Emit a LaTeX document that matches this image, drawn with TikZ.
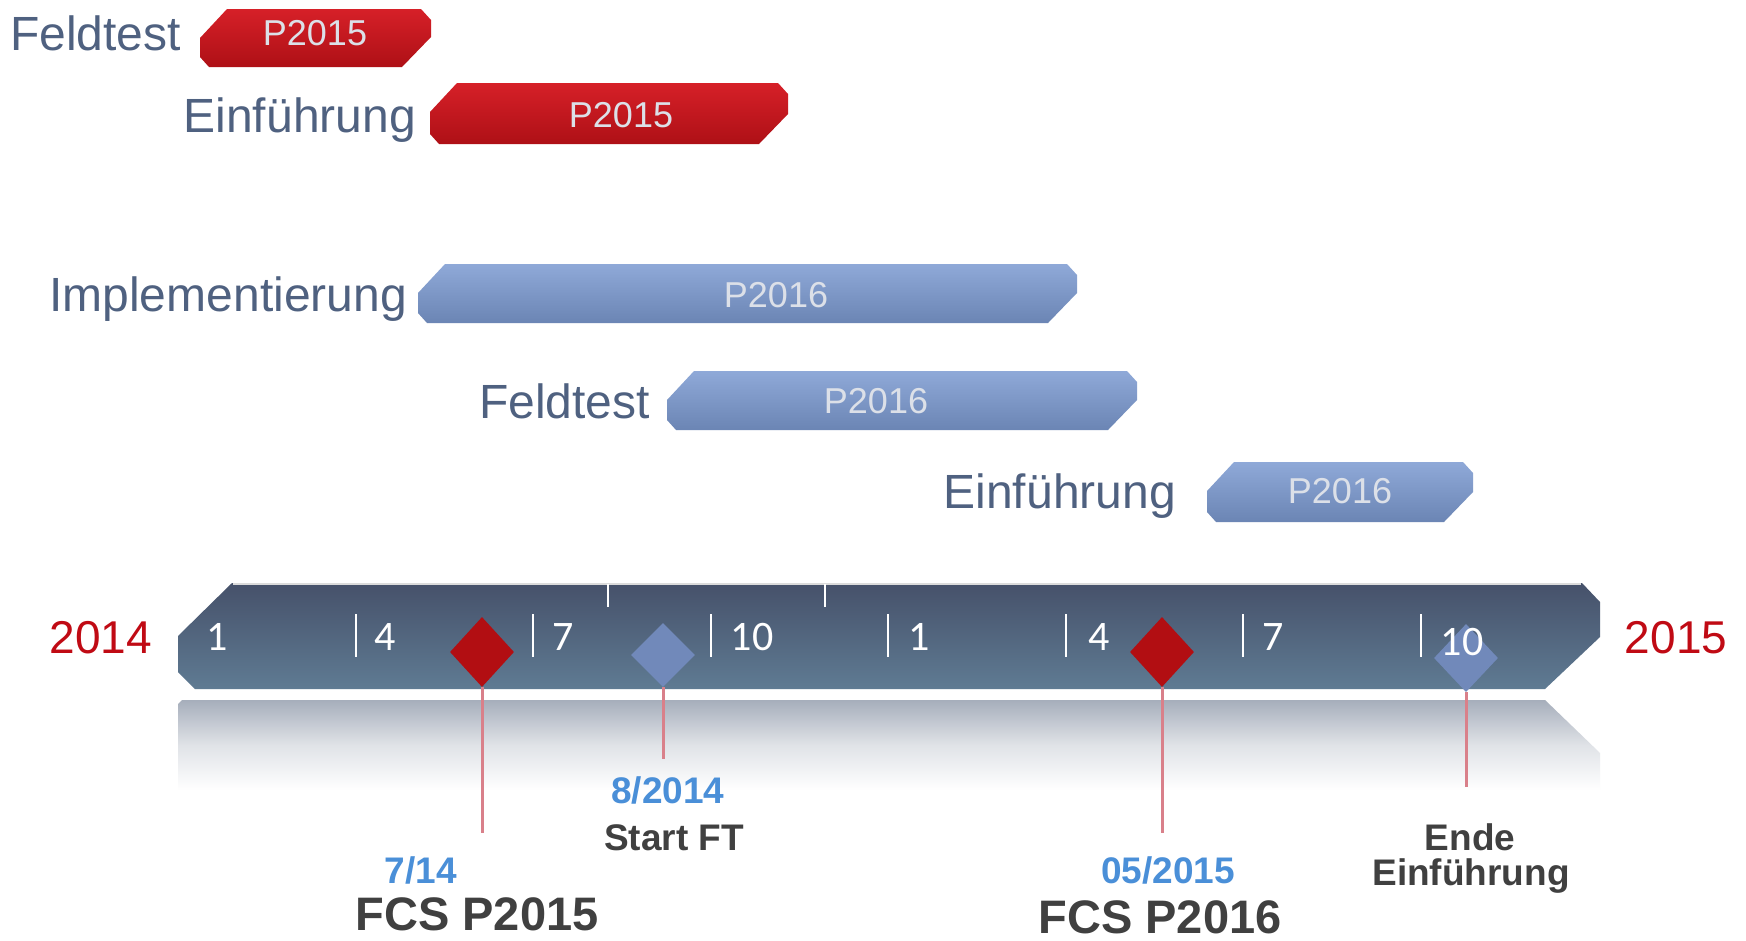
\documentclass[tikz,border=0pt]{standalone}
\usepackage{fontspec}
\setmainfont{Liberation Sans}
\newfontfamily\monthfont{Carlito}
\usetikzlibrary{shapes.geometric}

\definecolor{lblcol}{HTML}{4F6180}
\definecolor{redtop}{HTML}{D62028}
\definecolor{redbot}{HTML}{AE1016}
\definecolor{bluetop}{HTML}{8FA9D8}
\definecolor{bluebot}{HTML}{6B85B4}
\definecolor{bartxt}{HTML}{DCE0E8}
\definecolor{tltop}{HTML}{46516A}
\definecolor{tlbot}{HTML}{5F7B93}
\definecolor{yearred}{HTML}{C00A14}
\definecolor{diared}{HTML}{B20E12}
\definecolor{diablue}{HTML}{7189BA}
\definecolor{pinkline}{HTML}{D9808A}
\definecolor{datecol}{HTML}{4A8FD8}
\definecolor{darktxt}{HTML}{404040}
\definecolor{reftop}{HTML}{A6AEBB}

\newcommand\mybar[5]{%
  \path[#5] ({#1+27},#2) -- ({#3-10},#2) -- (#3,{#2+11}) -- (#3,{#4-30})
    -- ({#3-29},#4) -- ({#1+9},#4) -- (#1,{#4-10}) -- (#1,{#2+29}) -- cycle;}

\tikzset{
  lbl/.style={anchor=base east, inner sep=0, text=lblcol, font=\fontsize{48}{50}\selectfont},
  bartext/.style={anchor=base, inner sep=0, text=bartxt, font=\fontsize{36}{40}\selectfont},
  redbar/.style={top color=redtop, bottom color=redbot},
  bluebar/.style={top color=bluetop, bottom color=bluebot},
  monthlbl/.style={anchor=base, inner sep=0, text=white, font=\monthfont\fontsize{42}{44}\selectfont},
  mtick/.style={draw=white, line width=2.5pt},
  mstone/.style={diamond, inner sep=0, minimum width=64pt, minimum height=70pt, draw=none},
  stem/.style={draw=pinkline, line width=3pt},
  datelbl/.style={anchor=base, inner sep=0, text=datecol, font=\bfseries\fontsize{37}{40}\selectfont},
  notelbl/.style={anchor=base, inner sep=0, text=darktxt, font=\bfseries\fontsize{37}{40}\selectfont},
  biglbl/.style={anchor=base, inner sep=0, text=darktxt, font=\bfseries\fontsize{47}{50}\selectfont},
  yearlbl/.style={anchor=base, inner sep=0, text=yearred, font=\fontsize{46}{50}\selectfont},
}

\begin{document}
\begin{tikzpicture}[x=1pt,y=-1pt]
\useasboundingbox (0,0) rectangle (1746,940);
\fill[white] (0,0) rectangle (1746,940);

% ---- P2015 bars
\mybar{200}{9}{431}{67}{redbar}
\mybar{430}{83}{788}{144}{redbar}
\node[lbl] (lf1) at (181,50) {Feldtest};
\node[bartext] (bf1) at (315,45) {P2015};
\node[lbl] (le1) at (416,132) {Einführung};
\node[bartext] (be1) at (621,127) {P2015};

% ---- P2016 bars
\mybar{418}{264}{1077}{323}{bluebar}
\mybar{667}{371}{1137}{430}{bluebar}
\mybar{1207}{462}{1473}{522}{bluebar}
\node[lbl] (li2) at (407,311) {Implementierung};
\node[bartext] (bi2) at (776,307) {P2016};
\node[lbl] (lf2) at (650,418) {Feldtest};
\node[bartext] (bf2) at (876,413) {P2016};
\node[lbl] (le2) at (1176,508) {Einführung};
\node[bartext] (be2) at (1340,503) {P2016};

% ---- timeline reflection
\path[top color=reftop, bottom color=white, middle color=reftop!35!white]
  (182,700) -- (1545,700) -- (1600,753) -- (1600,790) -- (178,790) -- (178,704) -- cycle;
% ---- timeline bar
\path[top color=tltop, bottom color=tlbot]
  (232,583) -- (1582,583) -- (1600,602) -- (1600,637) -- (1545,689)
  -- (195,689) -- (178,672) -- (178,636) -- cycle;
\draw[white!72!gray, line width=1.5pt] (233,583.8) -- (1581,583.8);

% upper ticks
\draw[mtick] (608,584) -- (608,607);
\draw[mtick] (825,584) -- (825,607);
% month separators
\foreach \tx in {356,533,711,888,1066,1243,1421}
  \draw[mtick] (\tx,614) -- (\tx,657);

% years
\node[yearlbl] (y14) at (101,653) {2014};
\node[yearlbl] (y15) at (1676,653) {2015};

% milestones
\node[mstone, fill=diared] (m1) at (482,652) {};
\node[mstone, fill=diablue, minimum height=64pt] (m2) at (663,655) {};
\node[mstone, fill=diared] (m3) at (1162,652) {};
\node[mstone, fill=diablue, minimum height=68pt] (m4) at (1466,658) {};

% month labels
\node[monthlbl] (n1) at (217,650) {1};
\node[monthlbl] (n4) at (385,650) {4};
\node[monthlbl] (n7) at (563,650) {7};
\node[monthlbl] (n10) at (752,650) {10};
\node[monthlbl] (n1b) at (919,650) {1};
\node[monthlbl] (n4b) at (1099,650) {4};
\node[monthlbl] (n7b) at (1273,650) {7};
\node[monthlbl] (n10b) at (1462,655) {10};

% stems
\coordinate (e1) at (482,833);
\coordinate (e2) at (663,759);
\coordinate (e3) at (1162,833);
\coordinate (e4) at (1466,787);
\draw[stem] (m1.south) -- (e1);
\draw[stem] (m2.south) -- (e2);
\draw[stem] (m3.south) -- (e3);
\draw[stem] (m4.south) -- (e4);

% bottom labels
\node[datelbl] (d1) at (421,883) {7/14};
\node[biglbl] (f1) at (477,930) {FCS P2015};
\node[datelbl] (d2) at (668,803) {8/2014};
\node[notelbl] (s2) at (674,850) {Start FT};
\node[datelbl] (d3) at (1168,883) {05/2015};
\node[biglbl] (f3) at (1160,933) {FCS P2016};
\node[notelbl] (x4a) at (1470,850) {Ende};
\node[notelbl] (x4b) at (1471,885) {Einführung};
\end{tikzpicture}
\end{document}
